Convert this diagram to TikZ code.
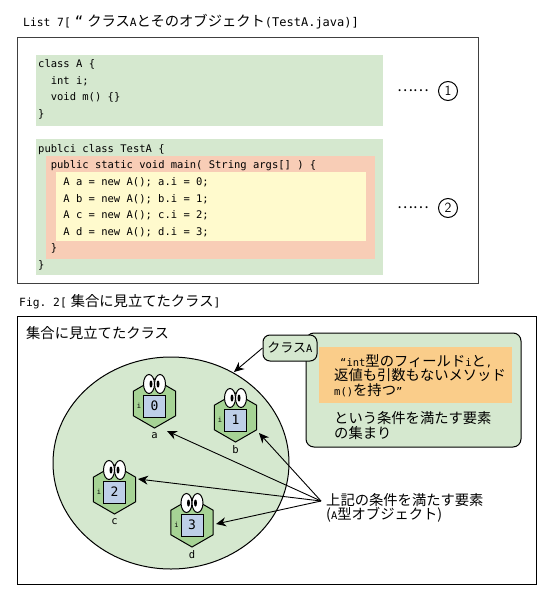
\documentclass[tikz,border=0pt]{standalone}
\usepackage{fontspec}
\setmonofont{DejaVu Sans Mono}
\newfontfamily\cjk{Noto Sans CJK JP}
\usetikzlibrary{arrows.meta, positioning, shapes.geometric}
\definecolor{setgreen}{RGB}{213,232,207}
\definecolor{hexgreen}{RGB}{166,211,149}
\definecolor{boxblue}{RGB}{190,207,232}
\definecolor{codered}{RGB}{248,205,182}
\definecolor{codeyellow}{RGB}{255,250,205}
\definecolor{noteorange}{RGB}{250,205,138}
\newcommand{\jp}[1]{{\fontsize{14.3}{15}\cjk #1}}
\newcommand{\ind}{\hspace*{12.6pt}}
\tikzset{
    code/.style={anchor=north west, inner sep=0pt, align=left, font=\fontsize{10.5}{16.6}\ttfamily},
    plain/.style={anchor=west, inner sep=0pt, align=left, font=\fontsize{10.5}{14.6}\ttfamily},
    head/.style={anchor=west, inner sep=0pt, align=left, font=\fontsize{11.3}{14.6}\ttfamily},
    num/.style={circle, draw, line width=1pt, minimum size=19pt, inner sep=0pt, font=\fontsize{14}{14}\sffamily},
    hexa/.style={regular polygon, regular polygon sides=6, shape border rotate=30, minimum size=49pt, inner sep=0pt, draw, line width=1pt, fill=hexgreen},
    valbox/.style={draw, line width=1pt, fill=boxblue, minimum size=22pt, inner sep=0pt, font=\fontsize{13}{14}\ttfamily},
    link/.style={-{Stealth[length=10pt,width=9pt]}, line width=0.9pt},
}

\begin{document}
\begin{tikzpicture}[x=1pt, y=-1pt]
    \useasboundingbox (0,0) rectangle (554,602);

    % List 7
    \node[head] (listtitle) at (23,22) {List 7[\hspace{4pt}{\fontsize{14}{15}\selectfont “}\hspace{4pt}\jp{クラス}A\jp{とそのオブジェクト}{\fontsize{12}{15}\selectfont (TestA.java)]}};
    \draw[line width=1pt, black!75] (17,38) rectangle (478,283);
    \fill[setgreen] (36,55) rectangle (383,126);
    \fill[setgreen] (36,139) rectangle (383,275);
    \fill[codered] (46,156) rectangle (375,259);
    \fill[codeyellow] (56,172) rectangle (366,241);
    \node[code] (classA) at (38,59.5) {class A \{\\ \ind int i;\\ \ind void m() \{\}\\ \}};
    \node[code] (classTest) at (38,144) {publci class TestA \{\\
        \ind public static void main( String args[] ) \{\\
        \ind\ind A a = new A(); a.i = 0;\\
        \ind\ind A b = new A(); b.i = 1;\\
        \ind\ind A c = new A(); c.i = 2;\\
        \ind\ind A d = new A(); d.i = 3;\\
        \ind \}\\ \}};
    \node[num] (one) at (448,91) {1};
    \node[num] (two) at (448,208) {2};
    \node[left=9pt of one, inner sep=0pt, font=\fontsize{15}{15}\cjk] (dotsone) {……};
    \node[left=9pt of two, inner sep=0pt, font=\fontsize{15}{15}\cjk] (dotstwo) {……};

    % Fig. 2
    \node[head] (figtitle) at (19,302) {Fig. 2[\hspace{4pt}\jp{集合に見立てたクラス}]};
    \draw[line width=1pt] (17,316) rectangle (536,584);
    \node[plain] (settitle) at (26,333) {\jp{集合に見立てたクラス}};
    \draw[line width=1pt, fill=setgreen] (171,463) ellipse (118 and 106);

    % objects
    \foreach \n/\x/\y/\v in {a/154.5/403.5/0, b/235.5/417.5/1, c/114.5/489.5/2, d/192/522.5/3} {
        \begin{scope}[shift={(\x,\y)}]
            \node[hexa] (hex\n) at (0,0) {};
            \node[valbox] (val\n) at (0,2.5) {\v};
            \node[inner sep=0pt, font=\fontsize{7}{8}\ttfamily] (ilabel\n) at (-15.5,2) {i};
            \node[inner sep=0pt, font=\fontsize{10.5}{12}\ttfamily] (name\n) at (0,32.5) {\n};
            \draw[line width=1pt, fill=white] (-5.5,-19.5) ellipse (5.5 and 9.5);
            \draw[line width=1pt, fill=white] (5.5,-19.5) ellipse (5.5 and 9.5);
            \fill (-3.5,-19.5) ellipse (1.5 and 3.5);
            \fill (3.5,-19.5) ellipse (1.5 and 3.5);
        \end{scope}
    }

    % class box and note
    \draw[line width=1pt, fill=setgreen, rounded corners=8pt] (306,333) rectangle (521,447);
    \fill[noteorange] (319,347) rectangle (512,403);
    \node[plain] (quote) at (340,361) {“int\jp{型のフィールド}i\jp{と},};
    \node[plain] (quotetwo) at (334,375) {\jp{返値も引数もないメソッド}};
    \node[plain] (quotethree) at (334,390) {m()\jp{を持つ}”};
    \node[plain] (cond) at (334,418) {\jp{という条件を満たす要素}};
    \node[plain] (condtwo) at (334,433) {\jp{の集まり}};
    \node[draw, line width=1pt, fill=setgreen, rounded corners=7pt, minimum width=54pt, minimum height=26pt, inner sep=0pt, font=\fontsize{10.5}{14}\ttfamily] (classnode) at (290,348) {\fontsize{13}{14}\cjk クラス\ttfamily\fontsize{10.5}{14}\selectfont A};
    \coordinate (settip) at (234,372);
    \draw[link] (classnode.west) -- (settip);

    % arrows to the objects
    \node[plain] (members) at (326,500) {\jp{上記の条件を満たす要素}};
    \node[plain] (memberstwo) at (326,515) {\jp{(}A\jp{型オブジェクト)}};
    \coordinate (hub) at (321,501);
    \coordinate (tipa) at (167,431);
    \coordinate (tipb) at (259,433);
    \coordinate (tipc) at (138,479);
    \coordinate (tipd) at (216,524);
    \foreach \n in {a,b,c,d} {
        \draw[link] (hub) -- (tip\n);
    }
\end{tikzpicture}
\end{document}
